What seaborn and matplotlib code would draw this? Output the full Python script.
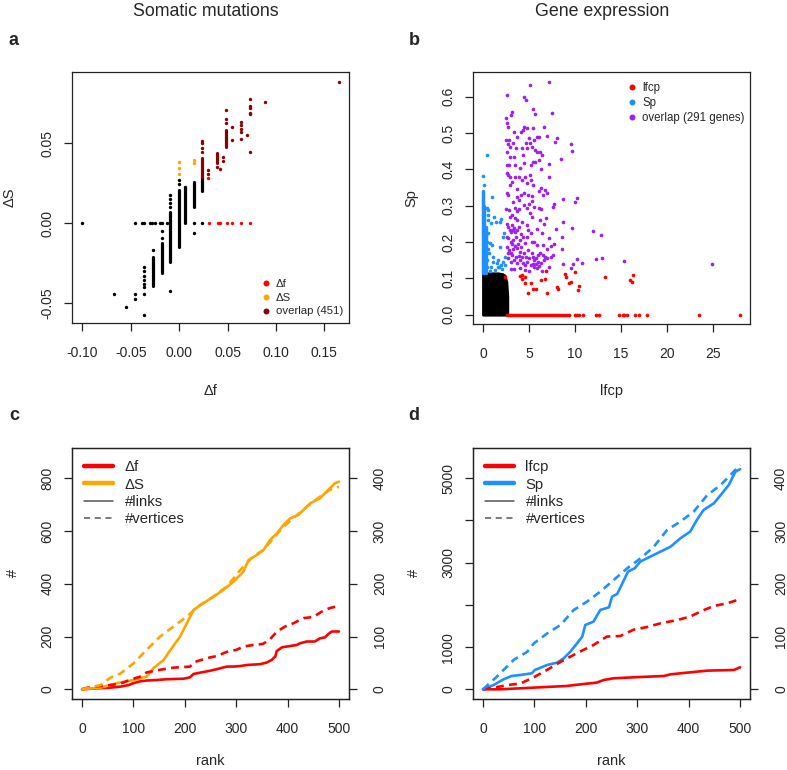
import seaborn as sns
import matplotlib.pyplot as plt
from matplotlib.lines import Line2D
from matplotlib.ticker import FormatStrFormatter, FixedLocator, FixedFormatter

# ---------------- panel a: somatic mutations ----------------
a_black_x = [-0.10, -0.0457, -0.0388, -0.0365, -0.0303, -0.0279, -0.0251, -0.0199, -0.0175, -0.0124,
             0.0152, 0.0238, -0.067, -0.055, -0.0458, -0.0458, -0.0367, -0.0367, -0.0367, -0.0367,
             -0.0367, -0.0367, -0.0367, -0.0367, -0.0275, -0.0092, 0.0152, -0.0092, -0.0092, -0.0092,
             -0.0092, 0.0, 0.0, 0.0059, -0.018, -0.018]
a_black_y = [0.0, 0.0, 0.0, 0.0, 0.0, 0.0, 0.0, 0.0, 0.0, 0.0,
             0.0, 0.0, -0.044, -0.052, -0.044, -0.047, -0.027, -0.030, -0.033, -0.0355,
             -0.038, -0.0396, -0.044, -0.057, -0.0167, -0.042, -0.0063, 0.0177, 0.015, 0.0125,
             0.010, 0.027, 0.0245, 0.0225, -0.005, -0.009]
# dense vertical runs of overlapping points
a_black_stack_x = [-0.0275, -0.018, -0.0092, 0.0, 0.0059, 0.0152, 0.0238]
a_black_stack_lo = [-0.039, -0.031, -0.024, -0.0146, 0.0, 0.0105, 0.0205]
a_black_stack_hi = [-0.021, -0.012, 0.007, 0.021, 0.022, 0.026, 0.0287]

a_red_x = [0.0307, 0.0403, 0.0420, 0.049, 0.0548, 0.0637, 0.0737, 0.0303]
a_red_y = [0.0, 0.0, 0.0, 0.0, 0.0, 0.0, 0.0, 0.0285]

a_orange_x = [0.0, 0.0, 0.0, 0.0149, 0.0149]
a_orange_y = [0.0385, 0.0344, 0.0306, 0.0396, 0.0379]

a_dark_x = [0.0238, 0.0238, 0.0238, 0.0238, 0.0303, 0.0303, 0.0396, 0.0427, 0.0455, 0.0455,
            0.0482, 0.0482, 0.0482, 0.0548, 0.0548, 0.0637, 0.0637, 0.0637, 0.0637, 0.0637,
            0.0703, 0.073, 0.073, 0.073, 0.073, 0.073, 0.073, 0.0885, 0.165]
a_dark_y = [0.0516, 0.050, 0.047, 0.0448, 0.0333, 0.031, 0.0354, 0.0339, 0.0412, 0.039,
            0.0708, 0.065, 0.0629, 0.0604, 0.052, 0.0635, 0.0615, 0.059, 0.0573, 0.053,
            0.0552, 0.0775, 0.0735, 0.0719, 0.0691, 0.0681, 0.0444, 0.0756, 0.0881]
a_dark_stack_x = [0.0238, 0.0396, 0.0482]
a_dark_stack_lo = [0.0291, 0.0379, 0.0475]
a_dark_stack_hi = [0.0406, 0.0437, 0.0583]

# ---------------- panel b: gene expression ----------------
b_purple_x = [7.22, 5.08, 2.61, 4.5, 4.72, 5.48, 5.69, 7.5, 3.16, 3.05, 2.5, 2.61, 2.68, 4.5, 4.32, 4.79,
              5.44, 3.37, 3.74, 4.1, 6.67, 2.5, 2.79, 2.94, 3.3, 4.97, 5.15, 5.33, 5.59, 5.84, 6.06,
              4.21, 4.68, 4.82, 7.0, 7.8, 8.09, 9.58, 9.65, 2.65, 2.94, 3.41, 5.66, 5.91, 6.2, 6.38,
              8.52, 2.61, 2.83, 3.52, 4.46, 5.19, 5.4, 6.06, 7.15, 4.03, 2.58, 2.76, 3.16, 3.95, 4.21,
              4.6, 4.82, 5.08, 5.19, 5.4, 7.22, 2.94, 3.66, 4.46, 5.3, 6.35, 6.75, 6.93, 2.58, 2.76,
              3.66, 3.92, 4.1, 5.04, 5.33, 5.55, 6.57, 8.74, 10.01, 10.2, 7.73, 7.58, 2.5, 2.83, 3.48,
              3.66, 4.43, 4.75, 6.06, 6.35, 2.94, 3.12, 3.48, 3.74, 5.3, 6.2, 6.86, 3.16, 3.41, 3.74,
              4.24, 4.75, 4.93, 5.26, 5.84, 6.38, 7.91, 8.74, 9.65, 12.0, 12.84, 2.58, 2.76, 3.3, 3.59,
              4.03, 4.39, 4.6, 5.37, 5.91, 6.57, 7.36, 7.73, 8.56, 8.6, 2.58, 2.79, 3.01, 3.3, 3.74,
              4.03, 4.46, 4.93, 5.33, 5.48, 5.77, 6.02, 6.2, 6.49, 6.78, 6.93, 7.36, 7.58, 2.76, 3.05,
              3.37, 3.66, 4.03, 4.32, 4.6, 4.82, 5.22, 5.55, 5.91, 6.13, 6.35, 6.64, 4.03, 4.57, 10.2,
              10.74, 9.83, 9.54, 8.74, 12.26, 12.98, 15.34, 24.88, 2.9, 3.1, 3.3, 3.5, 2.7, 3.9, 4.1,
              2.6, 3.0, 3.2, 3.5, 3.8, 2.7, 3.2, 3.55, 3.9, 5.6, 5.8, 6.0, 5.0, 4.7, 4.2, 2.9, 3.5,
              2.7, 3.6, 4.4, 5.7, 6.3, 6.1, 4.9, 3.3, 3.9, 5.1, 6.6, 7.2, 7.0, 5.6, 4.8, 4.1, 3.0,
              3.4, 5.0, 6.4, 5.4, 7.2]
b_purple_y = [0.640, 0.631, 0.605, 0.600, 0.591, 0.565, 0.552, 0.556, 0.559, 0.550, 0.540, 0.528,
              0.517, 0.517, 0.508, 0.513, 0.513, 0.504, 0.490, 0.502, 0.516, 0.481, 0.481, 0.462,
              0.472, 0.485, 0.472, 0.462, 0.481, 0.490, 0.490, 0.458, 0.472, 0.458, 0.492, 0.476,
              0.485, 0.469, 0.450, 0.449, 0.435, 0.435, 0.453, 0.449, 0.449, 0.439, 0.429, 0.412,
              0.412, 0.412, 0.418, 0.412, 0.421, 0.426, 0.415, 0.403, 0.389, 0.384, 0.366, 0.378,
              0.371, 0.378, 0.363, 0.384, 0.372, 0.357, 0.378, 0.357, 0.345, 0.336, 0.327, 0.348,
              0.343, 0.334, 0.334, 0.329, 0.325, 0.316, 0.329, 0.306, 0.313, 0.297, 0.329, 0.318,
              0.311, 0.320, 0.306, 0.297, 0.290, 0.288, 0.293, 0.286, 0.302, 0.293, 0.293, 0.291,
              0.270, 0.274, 0.265, 0.261, 0.270, 0.261, 0.265, 0.247, 0.238, 0.233, 0.254, 0.246,
              0.233, 0.224, 0.235, 0.224, 0.235, 0.256, 0.238, 0.231, 0.219, 0.215, 0.210, 0.206,
              0.215, 0.206, 0.213, 0.196, 0.201, 0.192, 0.192, 0.189, 0.194, 0.180, 0.215, 0.187,
              0.178, 0.169, 0.180, 0.183, 0.173, 0.169, 0.178, 0.169, 0.160, 0.155, 0.164, 0.169,
              0.164, 0.160, 0.155, 0.160, 0.164, 0.155, 0.146, 0.150, 0.141, 0.150, 0.141, 0.136,
              0.146, 0.137, 0.132, 0.128, 0.134, 0.143, 0.150, 0.128, 0.123, 0.152, 0.143, 0.139,
              0.128, 0.139, 0.152, 0.155, 0.148, 0.139, 0.232, 0.228, 0.232, 0.228, 0.240, 0.240,
              0.222, 0.250, 0.200, 0.195, 0.190, 0.195, 0.170, 0.165, 0.160, 0.162, 0.150, 0.140,
              0.145, 0.155, 0.160, 0.160, 0.380, 0.380, 0.470, 0.460, 0.440, 0.420, 0.400, 0.340,
              0.330, 0.310, 0.290, 0.280, 0.250, 0.210, 0.180, 0.200, 0.215, 0.185, 0.125, 0.125,
              0.120, 0.120, 0.140, 0.130]

b_red_x = [2.36, 4.06, 4.28, 4.53, 4.21, 4.53, 5.26, 4.9, 5.44, 5.8, 6.27, 6.71, 6.89, 6.96, 8.09,
           8.12, 8.96, 9.03, 9.32, 9.54, 9.97, 10.34, 10.41, 13.24, 16.03, 16.21, 16.32,
           9.4, 10.0, 10.26, 10.48, 10.85, 12.26, 12.62, 14.8, 15.2, 15.37, 15.63, 16.57, 17.0,
           17.88, 23.5, 27.97]
b_red_y = [0.105, 0.106, 0.109, 0.103, 0.099, 0.086, 0.086, 0.061, 0.072, 0.070, 0.095, 0.097,
           0.120, 0.059, 0.077, 0.070, 0.112, 0.103, 0.086, 0.090, 0.118, 0.068, 0.080, 0.103,
           0.095, 0.090, 0.110,
           0.0, 0.0, 0.0, 0.0, 0.0, 0.0, 0.0, 0.0, 0.0, 0.0, 0.0, 0.0, 0.0, 0.0, 0.0, 0.0]
# continuous row of red points on Sp = 0
b_red_run_x = [2.65, 9.1]

b_blue_x = [0.44, 0.0, 0.07, 0.94, 0.47, 0.58, 0.54, 1.45, 1.81, 1.99, 0.91, 0.73, 0.98, 1.09,
            1.63, 2.36, 2.18, 0.91, 1.34, 1.63, 1.99, 2.29, 2.21, 0.54, 1.85, 0.69, 1.12, 1.49,
            1.78, 2.07, 2.43, 0.76, 0.47, 0.6, 0.5, 0.4, 0.45, 1.2]
b_blue_y = [0.440, 0.383, 0.357, 0.323, 0.293, 0.288, 0.274, 0.256, 0.256, 0.262, 0.251, 0.196,
            0.192, 0.160, 0.150, 0.160, 0.146, 0.132, 0.123, 0.132, 0.137, 0.226, 0.215, 0.224,
            0.187, 0.169, 0.146, 0.141, 0.130, 0.125, 0.137, 0.121, 0.132, 0.260, 0.180, 0.150,
            0.200, 0.270]
b_blue_stack_x = [0.0, 0.15, 0.32]
b_blue_stack_lo = [0.116, 0.116, 0.116]
b_blue_stack_hi = [0.34, 0.30, 0.24]

# outline of the solid black cloud of non-selected genes
b_black_x = [0.0, 1.6, 2.1, 2.35, 2.55, 2.65]
b_black_top = [0.114, 0.114, 0.112, 0.108, 0.090, 0.050]

# ---------------- panel c: mutation ranks ----------------
c_df_links_rank = [0, 36, 55, 75, 91, 100, 113, 126, 146, 165, 198, 210, 217, 230, 249, 262, 282,
                   295, 308, 321, 346, 359, 369, 376, 379, 389, 405, 418, 424, 437, 453, 463, 473,
                   479, 486, 500]
c_df_links = [0, 4, 6, 10, 16, 23, 30, 33, 35, 38, 40, 45, 58, 63, 70, 76, 86, 86, 88, 92, 95, 101,
              111, 124, 145, 159, 164, 168, 174, 181, 181, 193, 197, 209, 219, 219]
c_df_vert_rank = [0, 10, 23, 55, 75, 94, 113, 126, 152, 178, 210, 220, 243, 262, 282, 301, 314,
                  333, 352, 365, 379, 395, 411, 431, 450, 466, 482, 500]
c_df_vert = [0, 3, 5, 8, 11, 18, 24, 32, 37, 41, 43, 52, 59, 63, 71, 75, 81, 84, 86, 94, 109, 119,
             125, 135, 137, 147, 154, 158]
c_ds_links_rank = [0, 36, 68, 100, 126, 139, 159, 172, 191, 204, 217, 236, 256, 275, 295, 314,
                   324, 340, 353, 366, 379, 392, 405, 421, 431, 444, 463, 479, 492, 500]
c_ds_links = [0, 6, 23, 35, 48, 80, 111, 149, 200, 250, 301, 326, 351, 377, 408, 446, 490, 509,
              528, 566, 591, 623, 648, 661, 680, 705, 724, 756, 781, 787]
c_ds_vert_rank = [0, 36, 55, 75, 100, 126, 152, 178, 204, 230, 256, 282, 308, 333, 353, 372, 392,
                  411, 437, 463, 482, 500]
c_ds_vert = [0, 8, 22, 30, 49, 75, 100, 119, 138, 160, 176, 195, 226, 252, 264, 286, 308, 324,
             346, 365, 378, 384]

# ---------------- panel d: expression ranks ----------------
d_sp_links_rank = [0, 21, 40, 56, 73, 95, 101, 125, 144, 157, 170, 183, 193, 199, 215, 228, 245,
                   251, 261, 268, 282, 295, 306, 332, 352, 365, 384, 403, 416, 429, 449, 465, 478,
                   491, 500]
d_sp_links = [0, 103, 237, 316, 340, 379, 458, 577, 632, 735, 893, 1090, 1248, 1525, 1604, 1880,
              1943, 2196, 2259, 2433, 2789, 2868, 3026, 3184, 3302, 3381, 3579, 3737, 4013, 4250,
              4408, 4645, 4843, 5159, 5214]
d_sp_vert_rank = [0, 27, 60, 86, 99, 125, 151, 176, 202, 228, 254, 280, 306, 332, 358, 384, 410,
                  436, 462, 481, 500]
d_sp_vert = [0, 24, 56, 71, 87, 106, 122, 150, 166, 185, 207, 229, 248, 270, 302, 318, 337, 368,
             387, 406, 425]
d_lf_links_rank = [0, 34, 99, 163, 196, 221, 235, 254, 293, 352, 365, 397, 436, 488, 500]
d_lf_links = [0, 0, 40, 79, 126, 158, 221, 261, 284, 316, 355, 395, 442, 458, 521]
d_lf_vert_rank = [0, 21, 47, 73, 99, 125, 151, 176, 196, 215, 241, 267, 293, 319, 345, 377, 403,
                  429, 449, 475, 500]
d_lf_vert = [0, 3, 8, 11, 23, 37, 52, 65, 75, 84, 100, 101, 113, 118, 125, 131, 138, 150, 158,
             163, 171]

RED = '#FF0000'
ORANGE = '#FFA500'
DARKRED = '#8B0000'
BLUE = '#1E90FF'
PURPLE = '#A020F0'
DASH = (0, (3, 2))

sns.set_style('ticks')
plt.rcParams['font.family'] = ['Liberation Sans', 'DejaVu Sans']
plt.rcParams['axes.unicode_minus'] = False
plt.rcParams['axes.edgecolor'] = '#222222'
plt.rcParams['axes.linewidth'] = 0.9

fig = plt.figure(figsize=(7.87, 7.70), dpi=100)
ax_a = fig.add_axes([0.0915, 0.5805, 0.352, 0.326])
ax_b = fig.add_axes([0.6006, 0.5792, 0.3524, 0.3269])
ax_c = fig.add_axes([0.0911, 0.0922, 0.3527, 0.3264])
ax_d = fig.add_axes([0.6006, 0.0922, 0.3529, 0.3264])


def style_axis(ax, right=False):
    ax.tick_params(axis='both', length=6, width=0.9, color='#222222', labelsize=10)
    ax.tick_params(axis='x', pad=10.5)
    ax.tick_params(axis='y', labelrotation=90, pad=11 if right else 6.5)
    for lab in ax.get_yticklabels():
        lab.set_va('center')


def stacks(ax, xs, lo, hi, color, lw=2.3):
    ax.vlines(xs, lo, hi, colors=color, linewidths=lw, capstyle='round')


# ---- a ----
sns.scatterplot(x=a_black_x, y=a_black_y, color='black', s=6, linewidth=0, ax=ax_a)
stacks(ax_a, a_black_stack_x, a_black_stack_lo, a_black_stack_hi, 'black')
sns.scatterplot(x=a_red_x, y=a_red_y, color=RED, s=6, linewidth=0, ax=ax_a)
sns.scatterplot(x=a_orange_x, y=a_orange_y, color=ORANGE, s=6, linewidth=0, ax=ax_a)
stacks(ax_a, a_dark_stack_x, a_dark_stack_lo, a_dark_stack_hi, DARKRED)
sns.scatterplot(x=a_dark_x, y=a_dark_y, color=DARKRED, s=6, linewidth=0, ax=ax_a)
ax_a.set_xlim(-0.1107, 0.1755)
ax_a.set_ylim(-0.0623, 0.0946)
ax_a.set_xticks([-0.10, -0.05, 0.0, 0.05, 0.10, 0.15])
ax_a.set_yticks([-0.05, 0.0, 0.05])
ax_a.xaxis.set_major_formatter(FormatStrFormatter('%.2f'))
ax_a.yaxis.set_major_formatter(FormatStrFormatter('%.2f'))
style_axis(ax_a)
ax_a.set_xlabel('Δf', fontsize=10.5)
ax_a.set_ylabel('ΔS', fontsize=10.5)
ax_a.xaxis.set_label_coords(0.5, -0.271)
ax_a.yaxis.set_label_coords(-0.224, 0.5)
ax_a.xaxis.label.set_va('center')
ax_a.yaxis.label.set_va('center')
h_a = [Line2D([], [], marker='o', ls='', color=c, markersize=4.3, markeredgewidth=0)
       for c in (RED, ORANGE, DARKRED)]
ax_a.legend(h_a, ['Δf', 'ΔS', 'overlap (451)'], loc='lower left', bbox_to_anchor=(0.683, 0.026),
            frameon=False, fontsize=8.2, handlelength=0.8, handletextpad=0.5, labelspacing=0.32,
            borderpad=0, borderaxespad=0)

# ---- b ----
ax_b.fill_between(b_black_x, 0, b_black_top, color='black', linewidth=2, edgecolor='black')
stacks(ax_b, b_blue_stack_x, b_blue_stack_lo, b_blue_stack_hi, BLUE, lw=2.5)
sns.scatterplot(x=b_blue_x, y=b_blue_y, color=BLUE, s=7, linewidth=0, ax=ax_b)
ax_b.hlines([0.0], b_red_run_x[0], b_red_run_x[1], colors=RED, linewidths=2.5, capstyle='round')
sns.scatterplot(x=b_red_x, y=b_red_y, color=RED, s=7, linewidth=0, ax=ax_b)
sns.scatterplot(x=b_purple_x, y=b_purple_y, color=PURPLE, s=7, linewidth=0, ax=ax_b)
ax_b.set_xlim(-1.12, 29.06)
ax_b.set_ylim(-0.0256, 0.667)
ax_b.set_xticks([0, 5, 10, 15, 20, 25])
ax_b.set_yticks([0.0, 0.1, 0.2, 0.3, 0.4, 0.5, 0.6])
ax_b.yaxis.set_major_formatter(FormatStrFormatter('%.1f'))
style_axis(ax_b)
ax_b.set_xlabel('lfcp', fontsize=10.5)
ax_b.set_ylabel('Sp', fontsize=10.5)
ax_b.xaxis.set_label_coords(0.5, -0.266)
ax_b.yaxis.set_label_coords(-0.22, 0.5)
ax_b.xaxis.label.set_va('center')
ax_b.yaxis.label.set_va('center')
h_b = [Line2D([], [], marker='o', ls='', color=c, markersize=4.3, markeredgewidth=0)
       for c in (RED, BLUE, PURPLE)]
ax_b.legend(h_b, ['lfcp', 'Sp', 'overlap (291 genes)'], loc='upper left',
            bbox_to_anchor=(0.557, 0.961), frameon=False, fontsize=8.3, handlelength=0.8,
            handletextpad=0.5, labelspacing=0.25, borderpad=0, borderaxespad=0)


# ---- c & d ----
def rank_panel(ax, series, left_lim, left_ticks, left_labels, labels):
    ax2 = ax.twinx()
    for x, y, color, dashed in series:
        target = ax2 if dashed else ax
        if dashed:
            sns.lineplot(x=x, y=y, color=color, linewidth=1.9, linestyle=DASH,
                         errorbar=None, ax=target)
        else:
            sns.lineplot(x=x, y=y, color=color, linewidth=1.9, errorbar=None, ax=target)
    ax.set_xlim(-20, 520)
    ax.set_ylim(*left_lim)
    ax2.set_ylim(-18.4, 458)
    ax.set_xticks([0, 100, 200, 300, 400, 500])
    ax.yaxis.set_major_locator(FixedLocator(left_ticks))
    ax.yaxis.set_major_formatter(FixedFormatter(left_labels))
    ax2.set_yticks([0, 100, 200, 300, 400])
    style_axis(ax)
    style_axis(ax2, right=True)
    ax2.set_ylabel('')
    ax.set_xlabel('rank', fontsize=10.5)
    ax.set_ylabel('#', fontsize=10.5)
    ax.xaxis.set_label_coords(0.5, -0.2467)
    ax.yaxis.set_label_coords(-0.2125, 0.5)
    ax.xaxis.label.set_va('center')
    ax.yaxis.label.set_va('center')
    handles = [Line2D([], [], color=series[0][2], lw=3.2),
               Line2D([], [], color=series[2][2], lw=3.2),
               Line2D([], [], color='#555555', lw=1.1),
               Line2D([], [], color='#555555', lw=1.1, ls=(0, (4, 3)))]
    ax2.legend(handles, labels, loc='upper left', bbox_to_anchor=(0.044, 0.95),
               frameon=False, fontsize=10.7, handlelength=1.95, handletextpad=0.78,
               labelspacing=0.22, borderpad=0, borderaxespad=0)


rank_panel(ax_c,
           [(c_df_links_rank, c_df_links, RED, False), (c_df_vert_rank, c_df_vert, RED, True),
            (c_ds_links_rank, c_ds_links, ORANGE, False), (c_ds_vert_rank, c_ds_vert, ORANGE, True)],
           (-37, 916), [0, 200, 400, 600, 800], ['0', '200', '400', '600', '800'],
           ['Δf', 'ΔS', '#links', '#vertices'])
rank_panel(ax_d,
           [(d_lf_links_rank, d_lf_links, RED, False), (d_lf_vert_rank, d_lf_vert, RED, True),
            (d_sp_links_rank, d_sp_links, BLUE, False), (d_sp_vert_rank, d_sp_vert, BLUE, True)],
           (-230, 5725), [0, 1000, 2000, 3000, 4000, 5000], ['0', '1000', '', '3000', '', '5000'],
           ['lfcp', 'Sp', '#links', '#vertices'])

# ---- titles and panel letters ----
fig.text(0.261, 0.9857, 'Somatic mutations', fontsize=12.8, ha='center', va='center')
fig.text(0.765, 0.9857, 'Gene expression', fontsize=12.8, ha='center', va='center')
for x, y, s in [(13.3, 40.7, 'a'), (414, 40.7, 'b'), (14, 415, 'c'), (414, 415, 'd')]:
    fig.text(x / 787, 1 - y / 770, s, fontsize=13, fontweight='bold', ha='center', va='center')

fig.savefig('out.png', dpi=100)
